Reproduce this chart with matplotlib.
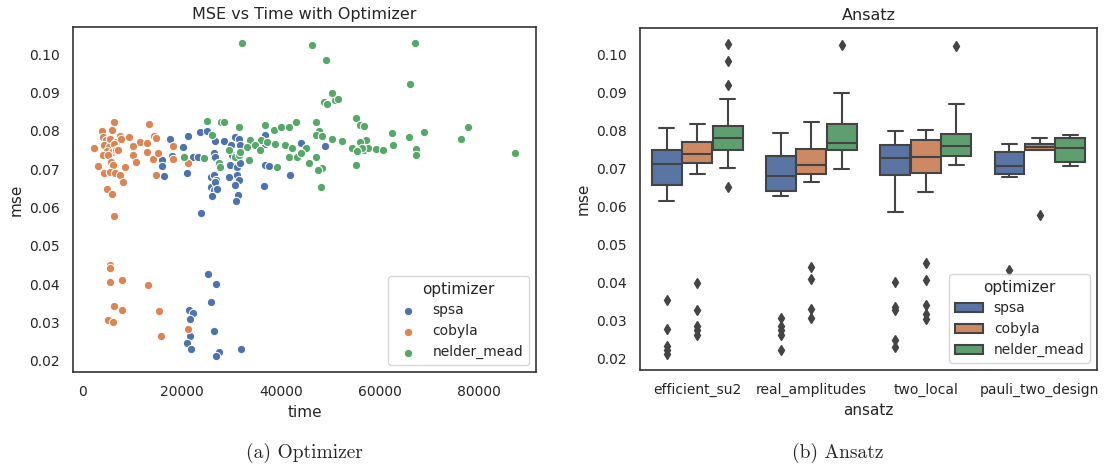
import numpy as np
import matplotlib.pyplot as plt
import seaborn as sns
from matplotlib.patches import Patch

# scatter values
spsa_time = [25210, 26830, 25900, 21450, 22180, 21570, 21570, 21110, 21920, 26560,
             27510, 26900, 31880, 23870, 17610, 21310, 23740, 25010, 26700, 20300,
             17940, 16120, 16060, 22320, 23330, 26560, 26900, 21110, 16400, 25800,
             26560, 26900, 25950, 26560, 26030, 28440, 30800, 31470, 30000, 31820,
             36720, 36860, 43940, 48850, 30130, 31470, 26770, 29800, 31140, 31820,
             36860, 37530, 43470, 29450, 31140, 31470, 30800, 31340, 30930, 36520,
             41920, 26770, 27110]
spsa_mse = [0.0427, 0.0400, 0.0354, 0.0332, 0.0324, 0.0309, 0.0264, 0.0248, 0.0230, 0.0278,
            0.0222, 0.0212, 0.0232, 0.0585, 0.0778, 0.0787, 0.0796, 0.0799, 0.0773, 0.0758,
            0.0734, 0.0723, 0.0708, 0.0733, 0.0733, 0.0741, 0.0728, 0.0689, 0.0681, 0.0680,
            0.0686, 0.0671, 0.0654, 0.0645, 0.0629, 0.0773, 0.0783, 0.0780, 0.0762, 0.0764,
            0.0790, 0.0767, 0.0769, 0.0760, 0.0736, 0.0732, 0.0732, 0.0710, 0.0706, 0.0715,
            0.0710, 0.0708, 0.0732, 0.0680, 0.0684, 0.0671, 0.0658, 0.0632, 0.0616, 0.0656,
            0.0686, 0.0667, 0.0649]

cobyla_time = [5620, 5620, 5490, 7910, 13300, 6300, 7910, 15450, 5150, 6160,
               15860, 21310, 6360, 6360, 13500, 3940, 6020, 7510, 9330, 2320,
               11550, 13030, 14500, 14900, 10270, 18140, 4100, 4700, 5600, 6800,
               7800, 4300, 5300, 6400, 7200, 4900, 5900, 6700, 4200, 5200,
               7180, 13030, 10270, 14240, 15250, 10750, 5760, 6220, 3130, 8520,
               4400, 5600, 6630, 7640, 8180, 14780, 18140, 21170, 4950, 5960]
cobyla_mse = [0.0451, 0.0442, 0.0406, 0.0411, 0.0399, 0.0342, 0.0332, 0.0329, 0.0308, 0.0302,
              0.0266, 0.0283, 0.0577, 0.0823, 0.0818, 0.0800, 0.0802, 0.0787, 0.0783, 0.0756,
              0.0771, 0.0768, 0.0787, 0.0782, 0.0761, 0.0760, 0.0785, 0.0775, 0.0778, 0.0770,
              0.0780, 0.0762, 0.0758, 0.0765, 0.0752, 0.0747, 0.0745, 0.0750, 0.0736, 0.0738,
              0.0751, 0.0744, 0.0736, 0.0726, 0.0741, 0.0719, 0.0719, 0.0710, 0.0708, 0.0706,
              0.0689, 0.0693, 0.0691, 0.0684, 0.0667, 0.0684, 0.0726, 0.0715, 0.0648, 0.0636]

nm_time = [25010, 26020, 20500, 24580, 27370, 27980, 28440, 31470, 36860, 38540,
           40100, 41570, 43070, 46970, 47640, 46970, 48320, 50340, 52360, 55050,
           55850, 56720, 54240, 56720, 57600, 55050, 33840, 36000, 37210, 33170,
           34850, 35860, 38890, 40910, 42260, 44950, 41570, 43270, 43940, 46970,
           45620, 48320, 39220, 33500, 30800, 27440, 27780, 47980, 31470, 31820,
           29450, 48650, 49320, 50860, 51540, 50200, 46300, 67100, 49050, 66010,
           87160, 32160, 62450, 65810, 68840, 76250, 77600, 57050, 55850, 56320,
           55390, 59090, 60560, 62580, 67300, 67300, 47500]
nm_mse = [0.0827, 0.0790, 0.0732, 0.0728, 0.0715, 0.0822, 0.0822, 0.0810, 0.0815, 0.0802,
          0.0810, 0.0810, 0.0822, 0.0823, 0.0799, 0.0789, 0.0787, 0.0780, 0.0774, 0.0834,
          0.0814, 0.0813, 0.0754, 0.0749, 0.0754, 0.0710, 0.0775, 0.0777, 0.0771, 0.0758,
          0.0762, 0.0749, 0.0767, 0.0762, 0.0754, 0.0755, 0.0732, 0.0732, 0.0741, 0.0732,
          0.0715, 0.0703, 0.0706, 0.0723, 0.0732, 0.0715, 0.0706, 0.0654, 0.0736, 0.0745,
          0.0749, 0.0875, 0.0871, 0.0880, 0.0882, 0.0899, 0.1025, 0.1030, 0.0986, 0.0923,
          0.0741, 0.1028, 0.0794, 0.0783, 0.0798, 0.0780, 0.0809, 0.0777, 0.0772, 0.0755,
          0.0747, 0.0752, 0.0749, 0.0762, 0.0753, 0.0736, 0.0698]

optimizers = ["spsa", "cobyla", "nelder_mead"]
ansatz = ["efficient_su2", "real_amplitudes", "two_local", "pauli_two_design"]

# box statistics per optimizer (rows) and ansatz (columns)
whishi = [[0.0805, 0.0792, 0.0798, 0.0764],
          [0.0817, 0.0822, 0.0801, 0.0780],
          [0.0881, 0.0898, 0.0869, 0.0788]]
q3 = [[0.0749, 0.0733, 0.0761, 0.0744],
      [0.0768, 0.0751, 0.0775, 0.0763],
      [0.0810, 0.0816, 0.0790, 0.0780]]
med = [[0.0711, 0.0679, 0.0727, 0.0707],
       [0.0738, 0.0710, 0.0729, 0.0757],
       [0.0779, 0.0766, 0.0758, 0.0753]]
q1 = [[0.0655, 0.0641, 0.0683, 0.0684],
      [0.0713, 0.0685, 0.0688, 0.0749],
      [0.0749, 0.0749, 0.0733, 0.0718]]
whislo = [[0.0615, 0.0628, 0.0586, 0.0677],
          [0.0685, 0.0665, 0.0639, 0.0748],
          [0.0701, 0.0697, 0.0709, 0.0707]]
fliers = [[[0.0353, 0.0277, 0.0233, 0.0222, 0.0211],
           [0.0308, 0.0287, 0.0276, 0.0263, 0.0222],
           [0.0401, 0.0336, 0.0327, 0.0248, 0.0231],
           [0.0432]],
          [[0.0399, 0.0329, 0.0285, 0.0275, 0.0263],
           [0.0442, 0.0408, 0.0331, 0.0307],
           [0.0452, 0.0407, 0.0342, 0.0318, 0.0305],
           [0.0578]],
          [[0.1028, 0.0983, 0.0920, 0.0652],
           [0.1024],
           [0.1022],
           []]]

sns.set_theme(style="white")
plt.rcParams['font.family'] = ['DejaVu Sans']

palette = sns.color_palette("deep")[:3]
box_colors = [sns.desaturate(c, 0.75) for c in palette]
gray = "#444444"

fig = plt.figure(figsize=(11.04, 4.76), dpi=100)
ax1 = fig.add_axes([0.0661, 0.2185, 0.4194, 0.7248])
ax2 = fig.add_axes([0.5797, 0.2227, 0.4140, 0.7185])

# left: scatter
for t, m, name, c in zip([spsa_time, cobyla_time, nm_time],
                         [spsa_mse, cobyla_mse, nm_mse], optimizers, palette):
    ax1.scatter(t, m, s=36, color=c, edgecolor="white", linewidth=0.75, label=name)
ax1.set_xticks([0, 20000, 40000, 60000, 80000])
ax1.set_yticks([0.02, 0.03, 0.04, 0.05, 0.06, 0.07, 0.08, 0.09, 0.10])
ax1.set_yticklabels(["%.2f" % v for v in ax1.get_yticks()])
ax1.set_xlabel("time", fontsize=11)
ax1.set_ylabel("mse", fontsize=11)
ax1.set_title("MSE vs Time with Optimizer", fontsize=11.5)
ax1.legend(title="optimizer", loc="lower right", fontsize=10, title_fontsize=11)

# right: boxes
w = 0.8 / 3
for j in range(3):
    stats = []
    for i in range(4):
        stats.append(dict(med=med[j][i], q1=q1[j][i], q3=q3[j][i],
                          whislo=whislo[j][i], whishi=whishi[j][i], fliers=fliers[j][i]))
    pos = [i + (j - 1) * w for i in range(4)]
    ax2.bxp(stats, positions=pos, widths=w * 0.98, patch_artist=True,
            boxprops=dict(facecolor=box_colors[j], edgecolor=gray, linewidth=1.5),
            medianprops=dict(color=gray, linewidth=1.5),
            whiskerprops=dict(color=gray, linewidth=1.5),
            capprops=dict(color=gray, linewidth=1.5),
            flierprops=dict(marker="d", markerfacecolor=gray, markeredgecolor=gray,
                            markersize=5))
ax2.set_xlim(-0.5, 3.5)
ax2.set_xticks(range(4))
ax2.set_xticklabels(ansatz)
ax2.set_yticks([0.02, 0.03, 0.04, 0.05, 0.06, 0.07, 0.08, 0.09, 0.10])
ax2.set_yticklabels(["%.2f" % v for v in ax2.get_yticks()])
ax2.set_xlabel("ansatz", fontsize=11)
ax2.set_ylabel("mse", fontsize=11)
ax2.set_title("Ansatz", fontsize=11.5)
handles = [Patch(facecolor=box_colors[j], edgecolor=gray, linewidth=1.5, label=optimizers[j])
           for j in range(3)]
ax2.legend(handles=handles, title="optimizer", loc="lower right", fontsize=10, title_fontsize=11)

for ax in (ax1, ax2):
    ax.tick_params(labelsize=10)
    for s in ax.spines.values():
        s.set_color("#333333")
        s.set_linewidth(1.2)

fig.text(0.276, 0.038, "(a) Optimizer", family="cmr10", fontsize=14, ha="center")
fig.text(0.759, 0.038, "(b) Ansatz", family="cmr10", fontsize=14, ha="center")

plt.savefig("out.png", dpi=100)
